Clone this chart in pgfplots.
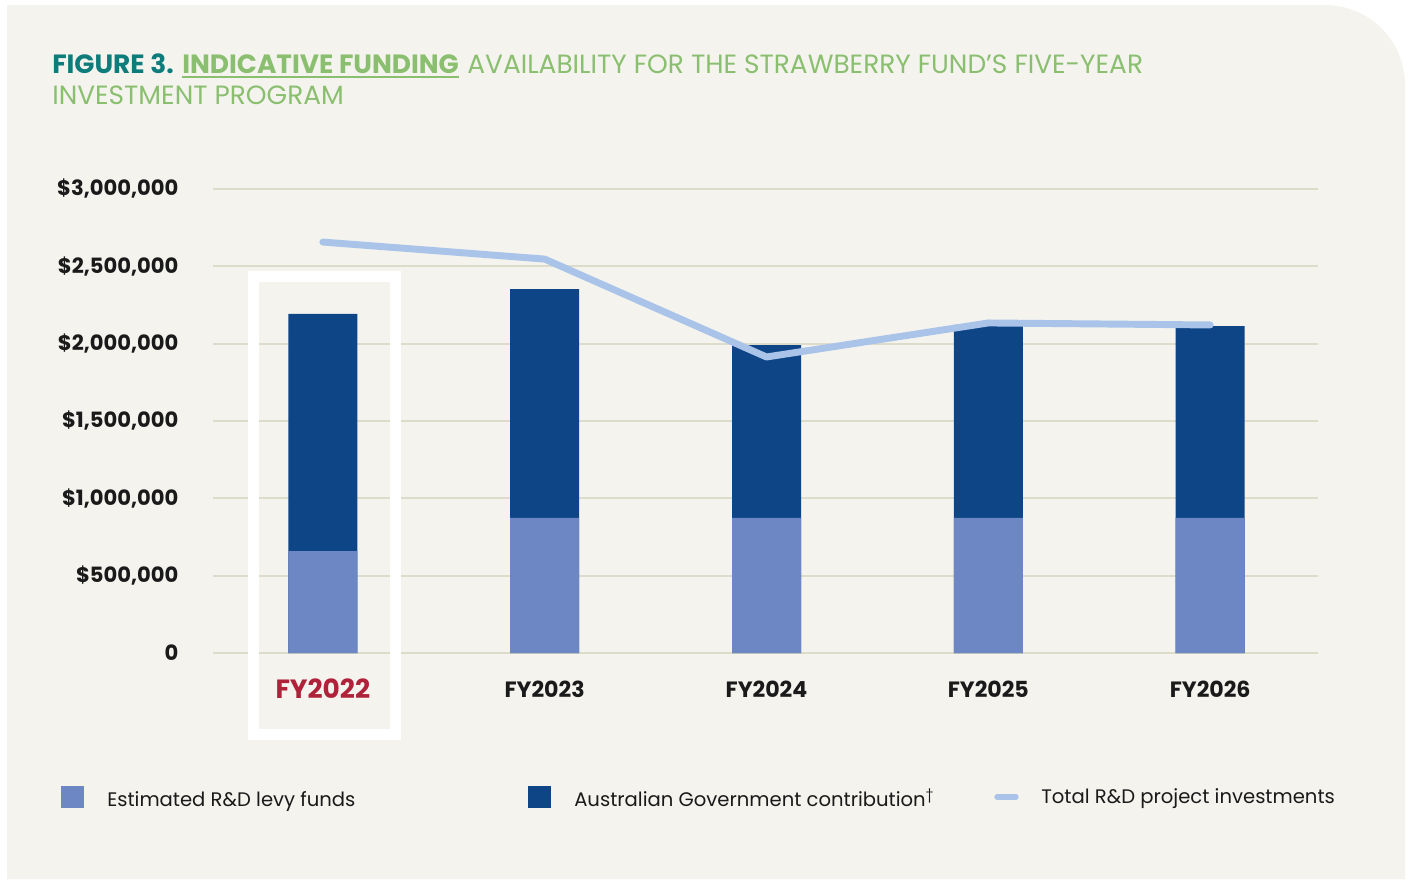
\documentclass[border=0pt]{standalone}
\usepackage{pgfplots}
\pgfplotsset{compat=1.18}
\usepackage{fontspec}
\setmainfont{Poppins}
\definecolor{panel}{HTML}{F4F3EE}
\definecolor{levy}{HTML}{6C87C3}
\definecolor{gov}{HTML}{0E4587}
\definecolor{tot}{HTML}{A9C4E8}
\definecolor{gridc}{HTML}{DDDCCB}
\definecolor{teal}{HTML}{0E7C7B}
\definecolor{green}{HTML}{8ABF6F}
\definecolor{fyred}{HTML}{B0223A}
\definecolor{txt}{HTML}{1A1A1A}
\begin{document}
\begin{tikzpicture}[x=0.75pt,y=-0.75pt]
% page and panel
\fill[white] (0,0) rectangle (1410,879);
\fill[panel] (7,879) -- (7,5) -- (1325,5) arc[start angle=-90,end angle=0,radius=80] -- (1405,879) -- cycle;
% title
\node[anchor=base west,inner sep=0,text=teal,font=\fontsize{19.8}{23}\selectfont\bfseries] (A) at (52,73) {FIGURE 3.};
\node[anchor=base west,inner sep=0,text=green,font=\fontsize{19.8}{23}\selectfont\bfseries,xshift=6pt] (B) at (A.base east) {INDICATIVE FUNDING};
\draw[green,line width=1.5pt] ([yshift=-2.8pt]B.base west) -- ([yshift=-2.8pt]B.base east);
\node[anchor=base west,inner sep=0,text=green,font=\fontsize{19.8}{23}\selectfont,xshift=6pt] at (B.base east) {AVAILABILITY FOR THE STRAWBERRY FUND’S FIVE-YEAR};
\node[anchor=base west,inner sep=0,text=green,font=\fontsize{19.8}{23}\selectfont] at (52,104) {INVESTMENT PROGRAM};
\begin{axis}[
  at={(159.75pt,-489.75pt)}, anchor=south west,
  scale only axis, width=828.75pt, height=348pt,
  xmin=-0.495, xmax=4.486, ymin=0, ymax=3000000,
  clip=false,
  axis line style={draw=none},
  major tick length=0pt,
  scaled y ticks=false,
  ymajorgrids, grid style={gridc,line width=1.6pt},
  xtick={0,1,2,3,4},
  xticklabels={{\textcolor{fyred}{\fontsize{19.8}{22}\selectfont FY2022}},FY2023,FY2024,FY2025,FY2026},
  ytick={0,500000,1000000,1500000,2000000,2500000,3000000},
  yticklabels={0,{\$500,000},{\$1,000,000},{\$1,500,000},{\$2,000,000},{\$2,500,000},{\$3,000,000}},
  /pgf/number format/assume math mode=true,
  yticklabel style={font=\fontsize{15.8}{18}\selectfont\bfseries, text=txt, anchor=east, xshift=-22.5pt},
  xticklabel style={font=\fontsize{16.6}{19}\selectfont\bfseries, text=txt, anchor=center, yshift=-27pt},
]
\addplot[ybar, bar width=51.75pt, bar shift=0pt, fill=gov, draw=none] coordinates {(0,2192000) (1,2353000) (2,1991000) (3,2121000) (4,2114000)};
\addplot[ybar, bar width=51.75pt, bar shift=0pt, fill=levy, draw=none] coordinates {(0,659000) (1,873000) (2,873000) (3,873000) (4,873000)};
\addplot[sharp plot, no marks, tot, line width=5.2pt, line cap=round, line join=round] coordinates {(0,2657000) (1,2547000) (2,1914000) (3,2134000) (4,2121000)};
\end{axis}
% highlight frame
\draw[white,line width=8.25pt] (253.5,276.5) rectangle (395.5,734.5);
% legend
\fill[levy] (61,786) rectangle (84,808);
\node[anchor=base west,inner sep=0,text=txt,font=\fontsize{14.7}{17}\selectfont] at (107,806) {Estimated R\&D levy funds};
\fill[gov] (528,786) rectangle (551,808);
\node[anchor=base west,inner sep=0,text=txt,font=\fontsize{14.7}{17}\selectfont] at (574,806) {Australian Government contribution\textsuperscript{†}};
\draw[tot,line width=4pt,line cap=round] (997,797) -- (1016,797);
\node[anchor=base west,inner sep=0,text=txt,font=\fontsize{14.7}{17}\selectfont] at (1041,803) {Total R\&D project investments};
\end{tikzpicture}
\end{document}
